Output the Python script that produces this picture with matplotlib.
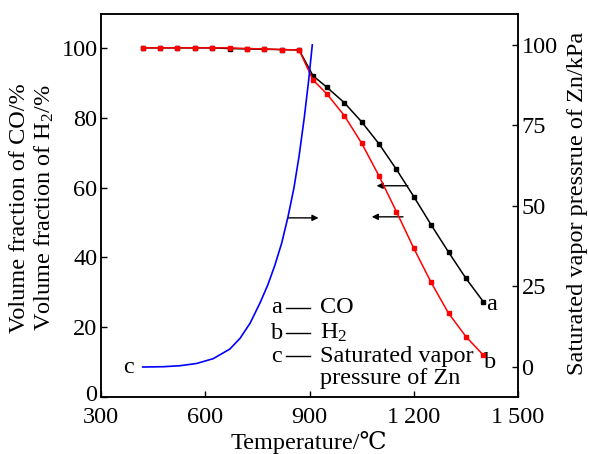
import matplotlib
matplotlib.use("Agg")
import matplotlib.pyplot as plt
import matplotlib.transforms as mtransforms

plt.rcParams['font.family'] = ['Liberation Serif', 'DejaVu Serif']
plt.rcParams['mathtext.fontset'] = 'custom'
plt.rcParams['mathtext.rm'] = 'Liberation Serif'
plt.rcParams['mathtext.it'] = 'Liberation Serif:italic'
plt.rcParams['mathtext.default'] = 'regular'

# Gas composition vs temperature (left axis, %)
temp_gas = [420, 470, 520, 570, 620, 670, 720, 770, 820, 870,
            910, 950, 1000, 1050, 1100, 1150, 1200, 1250, 1300, 1350, 1400]
co_frac = [100, 100, 100, 100, 100, 99.8, 99.7, 99.6, 99.5, 99.4,
           92.0, 88.7, 84.3, 78.8, 72.5, 65.2, 57.4, 49.3, 41.5, 34.0, 27.3]
h2_frac = [100, 100, 100, 100, 100, 100, 99.8, 99.7, 99.5, 99.4,
           90.8, 86.8, 80.6, 72.7, 63.3, 53.1, 42.6, 32.8, 24.0, 17.3, 12.0]

# Saturated vapor pressure of Zn (right axis, kPa)
temp_zn = [420, 480, 527, 575, 623, 671, 700, 729, 758, 780, 800, 820,
           838, 855, 870, 885, 897, 908]
p_zn = [0.0, 0.1, 0.4, 1.1, 2.6, 5.6, 8.9, 13.6, 20.0, 25.5, 31.5, 38.5,
        46.6, 55.5, 65.5, 77.5, 88.5, 100.0]

x_ticks = [300, 600, 900, 1200, 1500]
x_tick_labels = ["300", "600", "900", "1\u2009200", "1\u2009500"]
left_ticks = [0, 20, 40, 60, 80, 100]
right_ticks = [0, 25, 50, 75, 100]

FS = 17.5

fig = plt.figure(figsize=(5.89, 4.54), dpi=100)
ax = fig.add_axes([0.1715, 0.1256, 0.708, 0.8436])
ax2 = ax.twinx()

ax.plot(temp_gas, co_frac, color='black', lw=1.1, marker='s', ms=2.4,
        zorder=3)
ax.plot(temp_gas, h2_frac, color='#ff0000', lw=1.1, marker='s', ms=3.0,
        zorder=4)
ax2.plot(temp_zn, p_zn, color='#0000ff', lw=1.2)

ax.set_xlim(300, 1500)
ax.set_ylim(0, 109.7)
ax2.set_ylim(-9.3, 109.6)

ax.set_xticks(x_ticks)
ax.set_xticklabels(x_tick_labels)
ax.set_yticks(left_ticks)
ax2.set_yticks(right_ticks)

for a in (ax, ax2):
    a.tick_params(direction='in', length=4, width=1.0, labelsize=FS, pad=2.5)
    for s in a.spines.values():
        s.set_linewidth(1.1)
ax.tick_params(axis='x', pad=7)

# lift the "0" label slightly so it clears the "300" below it
zero_label = ax.get_yticklabels()[0]
zero_label.set_transform(zero_label.get_transform() +
                         mtransforms.ScaledTranslation(0, 4 / 100,
                                                       fig.dpi_scale_trans))

# Arrows indicating which axis each curve belongs to
arrow = dict(arrowstyle='-|>', color='black', lw=1.0, mutation_scale=9,
             shrinkA=0, shrinkB=0)
ax.annotate('', xy=(1093, 60.5), xytext=(1183, 60.5), arrowprops=arrow)
ax.annotate('', xy=(1079, 51.6), xytext=(1169, 51.6), arrowprops=arrow)
ax.annotate('', xy=(926, 51.3), xytext=(838, 51.3), arrowprops=arrow)

# Curve labels
ax.text(1425, 26.4, 'a', fontsize=FS, ha='center', va='center')
ax.text(1420, 10.0, 'b', fontsize=FS, ha='center', va='center')
ax.text(378, 8.3, 'c', fontsize=FS, ha='center', va='center')

# Key
key_rows = [('a', 'CO', 25.5), ('b', 'H$_2$', 18.3),
            ('c', 'Saturated vapor', 11.7)]
for letter, name, yv in key_rows:
    ax.text(806, yv, letter, fontsize=FS, ha='center', va='center')
    ax.plot([832, 901], [yv, yv], color='black', lw=1.0)
    ax.text(930, yv, name, fontsize=FS, ha='left', va='center')
ax.text(930, 5.2, 'pressure of Zn', fontsize=FS, ha='left', va='center')

# Axis titles
fig.text(309 / 589, 1 - 443 / 454, 'Temperature/\u2103', fontsize=FS,
         ha='center', va='center')
fig.text(20 / 589, 1 - 208 / 454, 'Volume fraction of CO/%', fontsize=FS,
         rotation=90, ha='center', va='center')
fig.text(44 / 589, 1 - 208 / 454, 'Volume fraction of H$_2$/%', fontsize=FS,
         rotation=90, ha='center', va='center')
fig.text(577 / 589, 1 - 203 / 454, 'Saturated vapor pressrue of Zn/kPa',
         fontsize=FS, rotation=90, ha='center', va='center')

fig.savefig('out.png', dpi=100)
